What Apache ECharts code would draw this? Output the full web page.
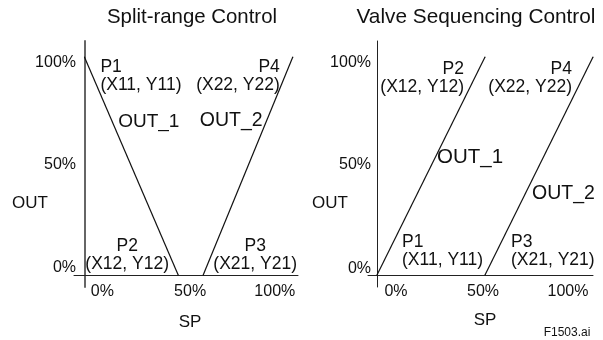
<!DOCTYPE html>
<html>
<head>
<meta charset="utf-8">
<script src="https://cdn.jsdelivr.net/npm/echarts@6/dist/echarts.min.js"></script>
<style>
  html, body { margin: 0; background: #fff; }
  #chart { width: 603px; height: 340px; }
</style>
</head>
<body>
<div id="chart"></div>
<script>
const panelTitles = ['Split-range Control', 'Valve Sequencing Control'];
const tickValues = [0, 50, 100];
const tickLabels = ['0%', '50%', '100%'];
const lineNames = ['OUT_1', 'OUT_2'];

// split-range: OUT_1 closes while OUT_2 opens
const splitOut1 = [[0, 100], [45, 0]];
const splitOut2 = [[57, 0], [100, 100]];
const splitPoints1 = [['P1', '(X11, Y11)'], ['P2', '(X12, Y12)']];
const splitPoints2 = [['P3', '(X21, Y21)'], ['P4', '(X22, Y22)']];

// valve sequencing: OUT_1 then OUT_2
const seqOut1 = [[0, 0], [50, 100]];
const seqOut2 = [[50, 0], [100, 100]];
const seqPoints1 = [['P1', '(X11, Y11)'], ['P2', '(X12, Y12)']];
const seqPoints2 = [['P3', '(X21, Y21)'], ['P4', '(X22, Y22)']];

const FONT = 'Liberation Sans, Arial, sans-serif';
const INK = '#111';

const chart = echarts.init(document.getElementById('chart'), null, { renderer: 'canvas' });

// label placement per point: [align, dx, dy]
const place = {
  split1: [['left', 16, 19], ['center', -51, -20]],
  split2: [['center', 52, -20], ['right', -13, 19]],
  seq1: [['left', 25, -24], ['right', -21, 21]],
  seq2: [['left', 26, -24], ['right', -21, 21]]
};
// OUT_x text, relative to the line's end point: [dx, dy, size]
const endPlace = {
  split1: [-60, -153, 19], split2: [-93, 64, 19.5],
  seq1: [-48, 100, 20.5], seq2: [-61, 137, 19.5]
};

function pointData(values, names, pl) {
  return values.map((v, i) => ({
    value: v,
    label: {
      show: true,
      position: 'inside',
      formatter: names[i].join('\n'),
      align: pl[i][0],
      verticalAlign: 'middle',
      offset: [pl[i][1], pl[i][2]],
      fontSize: 17.5,
      lineHeight: 18,
      fontFamily: FONT,
      color: INK
    }
  }));
}

function lineSeries(idx, name, values, names, key) {
  const e = endPlace[key];
  return {
    type: 'line',
    name: name,
    xAxisIndex: idx,
    yAxisIndex: idx,
    data: pointData(values, names, place[key]),
    symbol: 'circle',
    symbolSize: 1,
    itemStyle: { color: INK },
    lineStyle: { color: INK, width: 1.2 },
    endLabel: {
      show: true,
      formatter: name,
      align: 'left',
      verticalAlign: 'middle',
      distance: 0,
      offset: [e[0], e[1]],
      fontSize: e[2],
      fontFamily: FONT,
      color: INK
    },
    silent: true,
    animation: false
  };
}

function richFor(prefix, pads, size) {
  const r = {};
  tickValues.forEach((v, i) => {
    r[prefix + v] = { fontSize: size, fontFamily: FONT, color: INK, padding: pads[i] };
  });
  return r;
}

function xAxis(idx, min, max, pads) {
  return {
    type: 'value', gridIndex: idx, min: min, max: max,
    axisLine: { onZero: true, lineStyle: { color: '#222', width: 1 } },
    axisTick: { show: false },
    splitLine: { show: false },
    axisLabel: {
      customValues: tickValues,
      margin: -3,
      formatter: v => '{x' + v + '|' + tickLabels[tickValues.indexOf(v)] + '}',
      rich: richFor('x', pads, 16)
    }
  };
}

function yAxis(idx, lineColor, lineWidth, margin, pads) {
  return {
    type: 'value', gridIndex: idx, min: -5.5, max: 107.3,
    axisLine: { onZero: true, lineStyle: { color: lineColor, width: lineWidth } },
    axisTick: { show: false },
    splitLine: { show: false },
    axisLabel: {
      customValues: tickValues,
      margin: margin,
      formatter: v => '{y' + v + '|' + tickLabels[tickValues.indexOf(v)] + '}',
      rich: richFor('y', pads, 16)
    }
  };
}

function text(str, x, y, size) {
  return {
    text: str, left: x, top: y, padding: 0,
    textAlign: 'center', textVerticalAlign: 'middle',
    textStyle: { fontSize: size, fontWeight: 'normal', fontFamily: FONT, color: INK }
  };
}

const option = {
  backgroundColor: '#fff',
  title: [
    text(panelTitles[0], 192, 17, 20.4),
    text(panelTitles[1], 476, 17, 20.8),
    text('OUT', 30, 203, 17),
    text('OUT', 330, 203, 17),
    text('SP', 190, 322, 17),
    text('SP', 485, 320, 17),
    text('F1503.ai', 567, 333, 12)
  ],
  grid: [
    { left: 74, top: 41, width: 224, height: 246, containLabel: false, outerBoundsMode: 'none' },
    { left: 368, top: 41, width: 225, height: 246, containLabel: false, outerBoundsMode: 'none' }
  ],
  xAxis: [
    xAxis(0, -5, 102.5, [[0, 0, 0, 36], [0, 0, 0, 3], [0, 36, 0, 0]]),
    xAxis(1, -4.17, 100, [[0, 0, 0, 38], [0, 4, 0, 0], [0, 50, 0, 0]])
  ],
  yAxis: [
    yAxis(0, '#666', 2, -2, [[0, 0, 15, 0], [0, 0, 2, 0], [12, 0, 0, 0]]),
    yAxis(1, '#222', 1, -3, [[0, 0, 12, 0], [0, 0, 2, 0], [12, 0, 0, 0]])
  ],
  series: [
    lineSeries(0, lineNames[0], splitOut1, splitPoints1, 'split1'),
    lineSeries(0, lineNames[1], splitOut2, splitPoints2, 'split2'),
    lineSeries(1, lineNames[0], seqOut1, seqPoints1, 'seq1'),
    lineSeries(1, lineNames[1], seqOut2, seqPoints2, 'seq2')
  ]
};

chart.setOption(option);
</script>
</body>
</html>
